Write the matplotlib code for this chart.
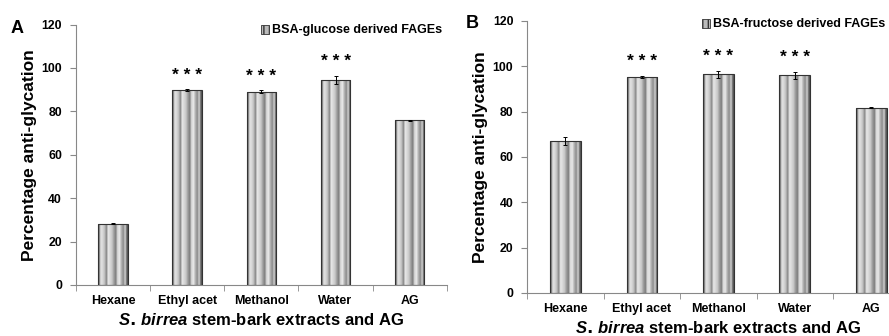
import numpy as np
import matplotlib.pyplot as plt
from matplotlib.patches import Rectangle

plt.rcParams['font.family'] = ['Liberation Sans', 'DejaVu Sans']
plt.rcParams['font.weight'] = 'bold'
plt.rcParams['mathtext.fontset'] = 'custom'
plt.rcParams['mathtext.it'] = 'Liberation Sans:italic:bold'

categories = ['Hexane', 'Ethyl acet', 'Methanol', 'Water', 'AG']
glucose_vals = [28.2, 89.7, 89.0, 94.5, 75.8]
glucose_err = [0.3, 0.4, 0.6, 1.8, 0.3]
fructose_vals = [67.0, 95.2, 96.5, 96.0, 81.6]
fructose_err = [1.7, 0.6, 1.6, 1.5, 0.2]
signif = ['', '***', '***', '***', '']
yticks = [0, 20, 40, 60, 80, 100, 120]

# gray stripes used to fill each bar
stripes = np.array([[0.40, 0.88, 0.85, 0.75, 0.55, 0.90, 0.85, 0.78, 0.62, 0.50,
                     0.85, 0.90, 0.70, 0.55, 0.82, 0.35]])

fig = plt.figure(figsize=(8.89, 3.36), dpi=100)
ax1 = fig.add_axes([0.0855, 0.152, 0.417, 0.775])
ax2 = fig.add_axes([0.593, 0.128, 0.43, 0.81])


def draw_panel(ax, vals, errs, letter, legend_text, letter_xy, leg_xy):
    x = np.arange(len(categories))
    bars = ax.bar(x, vals, width=0.4, color='none', edgecolor='#333333', lw=0.8, zorder=3)
    for b in bars:
        im = ax.imshow(stripes, cmap='gray', vmin=0, vmax=1, aspect='auto',
                       extent=[b.get_x(), b.get_x() + b.get_width(), 0, b.get_height()],
                       zorder=2, interpolation='bilinear')
        im.set_clip_path(b)
    ax.errorbar(x, vals, yerr=errs, fmt='none', ecolor='black', elinewidth=0.7,
                capsize=1.5, capthick=0.7, zorder=4)
    for xi, v, e, s in zip(x, vals, errs, signif):
        if s:
            ax.text(xi, v + e + 3.0, '* * *', ha='center', va='bottom', fontsize=12.5)
    ax.set_xlim(-0.5, 4.5)
    ax.set_ylim(0, 120)
    ax.set_yticks(yticks)
    ax.set_xticks(x)
    ax.set_xticklabels(categories, fontsize=9, fontweight='bold')
    ax.set_xticks(np.arange(-0.5, 5.0, 1.0), minor=True)
    ax.tick_params(axis='x', which='major', length=0, pad=7)
    ax.tick_params(axis='x', which='minor', length=4, color='#888888')
    ax.tick_params(axis='y', length=4, color='#888888', labelsize=8.8, pad=6)
    for lab in ax.get_yticklabels():
        lab.set_fontweight('bold')
    for sp in ['top', 'right']:
        ax.spines[sp].set_visible(False)
    for sp in ['left', 'bottom']:
        ax.spines[sp].set_color('#888888')
    ax.set_ylabel('Percentage anti-glycation', fontsize=12.5, fontweight='bold', labelpad=3)
    ax.set_xlabel(r'$\mathit{S.\,birrea}$ stem-bark extracts and AG', fontsize=12,
                  fontweight='bold', labelpad=4)
    fig.text(letter_xy[0], letter_xy[1], letter, fontsize=13, fontweight='bold',
             ha='left', va='center')
    # small legend swatch + label
    fig.add_artist(Rectangle((leg_xy[0], leg_xy[1] - 0.013), 0.009, 0.026,
                             transform=fig.transFigure, facecolor='#bbbbbb',
                             edgecolor='#333333', lw=0.6, hatch='|||'))
    fig.text(leg_xy[0] + 0.012, leg_xy[1], legend_text, fontsize=9,
             fontweight='bold', ha='left', va='center')


draw_panel(ax1, glucose_vals, glucose_err, 'A', 'BSA-glucose derived FAGEs',
           (0.012, 0.914), (0.294, 0.912))
draw_panel(ax2, fructose_vals, fructose_err, 'B', 'BSA-fructose derived FAGEs',
           (0.524, 0.93), (0.79, 0.93))

fig.savefig('out.png', dpi=100)
